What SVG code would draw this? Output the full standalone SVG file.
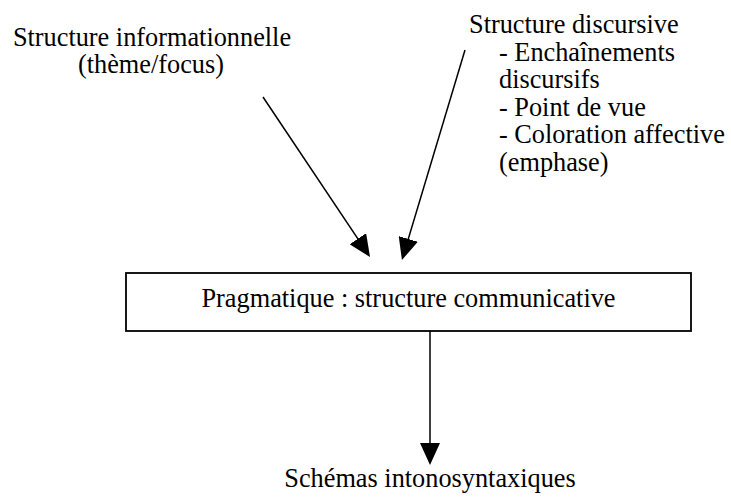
<svg xmlns="http://www.w3.org/2000/svg" width="731" height="497" viewBox="0 0 731 497">
  <style>
    text { font-family: "Liberation Serif", "Times New Roman", serif; font-size: 26.3px; fill: #000; }
    .edge { stroke: #000; stroke-width: 1.5; fill: none; marker-end: url(#arrow); }
    .box { fill: #fff; stroke: #000; stroke-width: 1.8; }
  </style>
  <defs>
    <marker id="arrow" markerUnits="userSpaceOnUse" markerWidth="22" markerHeight="20" refX="18" refY="10" orient="auto" viewBox="0 0 22 20">
      <path d="M0,0 L22,10 L0,20 z" fill="#000"/>
    </marker>
  </defs>
  <rect width="731" height="497" fill="#fff"/>
  <g id="connectors">
    <line class="edge" x1="263" y1="97" x2="367.8" y2="253.7"/>
    <line class="edge" x1="465" y1="50" x2="403.1" y2="256.2"/>
    <line class="edge" x1="430" y1="331" x2="430" y2="461"/>
  </g>
  <g id="informationnelle">
    <text x="152" y="46" text-anchor="middle">Structure informationnelle</text>
    <text x="151" y="73" text-anchor="middle">(thème/focus)</text>
  </g>
  <g id="discursive">
    <text x="469" y="33">Structure discursive</text>
    <text x="499" y="60.6">- Enchaînements</text>
    <text x="499" y="88.2">discursifs</text>
    <text x="499" y="115.8">- Point de vue</text>
    <text x="499" y="143.4">- Coloration affective</text>
    <text x="499" y="171">(emphase)</text>
  </g>
  <g id="pragmatique">
    <rect class="box" x="126" y="273" width="565" height="58"/>
    <text x="408.5" y="307" text-anchor="middle">Pragmatique : structure communicative</text>
  </g>
  <g id="schemas">
    <text x="430" y="487" text-anchor="middle">Schémas intonosyntaxiques</text>
  </g>
</svg>
